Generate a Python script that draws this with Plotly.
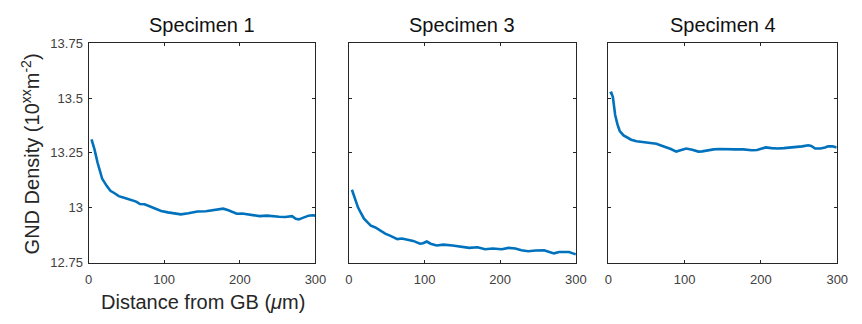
import plotly.graph_objects as go

# Specimen 1
x1 = [4, 8, 12, 18, 24, 29, 35, 40, 48, 57, 63, 68, 74, 79, 88, 96, 105, 114, 122, 132, 144, 155, 165, 172, 178, 184, 190, 196, 203, 209, 217, 226, 236, 244, 252, 260, 265, 269, 274, 278, 284, 291, 296, 300]
y1 = [13.312, 13.265, 13.205, 13.133, 13.100, 13.077, 13.065, 13.053, 13.044, 13.034, 13.028, 13.017, 13.016, 13.009, 12.998, 12.985, 12.979, 12.975, 12.970, 12.975, 12.983, 12.984, 12.990, 12.994, 12.996, 12.990, 12.980, 12.973, 12.974, 12.970, 12.966, 12.962, 12.964, 12.960, 12.959, 12.958, 12.962, 12.962, 12.950, 12.947, 12.955, 12.964, 12.966, 12.964]

# Specimen 3
x3 = [4, 8, 12, 16, 20, 25, 29, 35, 42, 48, 55, 60, 64, 70, 77, 85, 94, 98, 103, 108, 116, 125, 137, 148, 159, 170, 180, 190, 202, 211, 220, 228, 237, 247, 258, 265, 271, 278, 284, 291, 296, 300]
y3 = [13.082, 13.040, 13.002, 12.975, 12.950, 12.932, 12.918, 12.910, 12.893, 12.882, 12.872, 12.862, 12.857, 12.860, 12.854, 12.849, 12.836, 12.838, 12.846, 12.836, 12.828, 12.832, 12.828, 12.824, 12.817, 12.820, 12.811, 12.814, 12.811, 12.817, 12.814, 12.806, 12.802, 12.805, 12.806, 12.798, 12.792, 12.798, 12.799, 12.798, 12.792, 12.788]

# Specimen 4
x4 = [2, 4, 6, 9, 12, 15, 20, 24, 30, 37, 44, 50, 57, 63, 70, 76, 82, 89, 95, 102, 110, 118, 123, 130, 138, 145, 155, 166, 177, 188, 195, 200, 206, 214, 222, 230, 238, 245, 254, 262, 266, 271, 278, 284, 288, 294, 299]
y4 = [13.521, 13.524, 13.505, 13.423, 13.380, 13.350, 13.330, 13.321, 13.310, 13.303, 13.300, 13.299, 13.296, 13.292, 13.283, 13.277, 13.268, 13.256, 13.262, 13.270, 13.264, 13.256, 13.257, 13.262, 13.266, 13.268, 13.266, 13.266, 13.266, 13.262, 13.263, 13.270, 13.275, 13.272, 13.270, 13.272, 13.274, 13.275, 13.280, 13.285, 13.282, 13.270, 13.270, 13.275, 13.280, 13.280, 13.275]

titles = ["Specimen 1", "Specimen 3", "Specimen 4"]
x_ticks = [0, 100, 200, 300]
y_ticks = [12.75, 13, 13.25, 13.5, 13.75]
y_ticktext = ["12.75", "13", "13.25", "13.5", "13.75"]

FONT = "Liberation Sans, Arial, Helvetica, sans-serif"
LINE = "#0072BD"
AX = "#262626"

W, H = 862, 324
doms = [(86, 317), (351, 582), (615, 848)]
top, bot = 38, 268

fig = go.Figure()
series = [(x1, y1), (x3, y3), (x4, y4)]
for i, (xs, ys) in enumerate(series):
    sfx = "" if i == 0 else str(i + 1)
    fig.add_trace(go.Scatter(x=xs, y=ys, mode="lines",
                             line=dict(color=LINE, width=2.6, shape="linear"),
                             xaxis="x" + sfx, yaxis="y" + sfx, showlegend=False))
    common = dict(showgrid=False, zeroline=False, showline=True, linecolor=AX, linewidth=1,
                  mirror="ticks", ticks="inside", ticklen=3, tickcolor=AX, tickwidth=1,
                  tickfont=dict(family=FONT, size=13, color="#404040"))
    xa = dict(common, domain=[doms[i][0] / W, doms[i][1] / W], range=[0, 300],
              tickvals=x_ticks, anchor="y" + sfx, ticklabelstandoff=5)
    ya = dict(common, domain=[1 - bot / H, 1 - top / H], range=[12.75, 13.75],
              tickvals=y_ticks, ticktext=y_ticktext, anchor="x" + sfx,
              showticklabels=(i == 0), ticklabelstandoff=2)
    fig.update_layout(**{"xaxis" + sfx: xa, "yaxis" + sfx: ya})
    fig.add_annotation(text=titles[i], xref="paper", yref="paper",
                       x=(doms[i][0] + doms[i][1]) / 2 / W, y=1 - 19 / H,
                       xanchor="center", yanchor="middle", showarrow=False,
                       font=dict(family=FONT, size=20, color="#111111"))

fig.add_annotation(text="Distance from GB (<i>μ</i>m)", xref="paper", yref="paper",
                   x=203 / W, y=1 - 309 / H,
                   xanchor="center", yanchor="middle", showarrow=False,
                   font=dict(family=FONT, size=20, color="#262626"))
fig.add_annotation(text="GND Density (10<sup>xx</sup>m<sup>-2</sup>)", xref="paper", yref="paper",
                   x=27 / W, y=1 - 154 / H, textangle=-90,
                   xanchor="center", yanchor="middle", showarrow=False,
                   font=dict(family=FONT, size=20, color="#262626"))

fig.update_layout(width=W, height=H, margin=dict(l=0, r=0, t=0, b=0),
                  plot_bgcolor="white", paper_bgcolor="white")
fig.write_html("out.html")
